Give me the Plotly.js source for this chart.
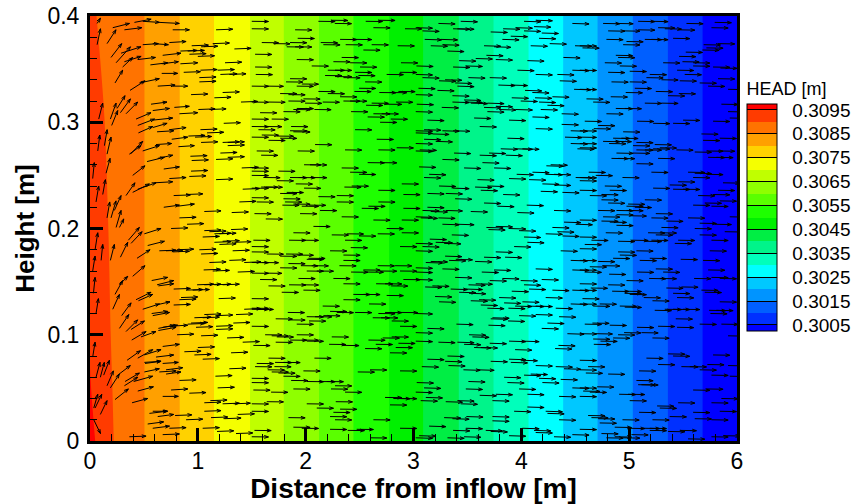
<!DOCTYPE html>
<html><head><meta charset="utf-8">
<script src="https://cdn.plot.ly/plotly-3.0.1.min.js"></script>
<style>html,body{margin:0;padding:0;background:#fff}</style></head>
<body><div id="chart" style="width:855px;height:504px"></div>
<script>
// Head field: straight iso-head stations (m) and values (m)
const stationX = [0.505,0.832,1.150,1.484,1.797,2.124,2.443,2.774,3.089,3.420,3.742,4.067,4.388,4.707,5.034,5.359,5.681,6.0];
const stationHead = [0.3085,0.3080,0.3075,0.3070,0.3065,0.3060,0.3055,0.3050,0.3045,0.3040,0.3035,0.3030,0.3025,0.3020,0.3015,0.3010,0.3005,0.3002];
// Near-inflow field varies with height
const inflowX = [0,0.06,0.13,0.17,0.22];
const rowY = [0,0.05,0.1,0.2,0.3,0.4];
const inflowHead0 = [0.3097,0.30945,0.3092,0.30912,0.3090];
const inflowHead05 = [0.30953,0.30935,0.30915,0.30906,0.30898];
const inflowHead10 = [0.30945,0.3093,0.3091,0.30904,0.30895];
const inflowHead20 = [0.3094,0.30925,0.30908,0.3090,0.30893];
const inflowHead30 = [0.3093,0.30915,0.30901,0.30894,0.30888];
const inflowHead40 = [0.3092,0.3090,0.30892,0.30888,0.30882];
const bandColors = ['#0000ff','#0030ff','#005fff','#0094ff','#00c8ff','#00ffff','#00ffbb','#00f48a','#00ee44','#00f000','#1eff00','#5aff00','#8fff00','#c0ff00','#f5ff00','#ffd200','#ffa000','#ff7300','#ff3b00','#ff0000'];
const levelTicks = [0.3005,0.3015,0.3025,0.3035,0.3045,0.3055,0.3065,0.3075,0.3085,0.3095];

// Velocity arrows near the inflow: [x, y, u, v]
const inflowArrowsUpper = [[.066,.393,.031,.005],[.066,.373,.031,.015],[.158,.374,.083,.013],[.211,.389,.155,.004],[.319,.387,.161,.002],[.412,.394,.155,.003],[.489,.395,.155,-.001],[.643,.394,.185,-.001],[.767,.387,.155,0],[.195,.361,.099,.013],[.242,.356,.133,.015],[.288,.365,.185,.006],[.489,.373,.145,.001],[.582,.374,.145,-.001],[.736,.375,.155,.001],[.303,.352,.093,.009],[.319,.357,.155,.005],[.443,.359,.164,.002],[.560,.354,.161,.002],[.665,.355,.155,.002],[.838,.355,.161,.001],[.232,.337,.071,.012],[.371,.330,.139,.009],[.458,.337,.185,.004],[.665,.346,.148,0],[.628,.334,.161,.001],[.767,.334,.139,0],[.674,.363,.17,.002],
[.081,.303,.037,.015],[.189,.303,.053,.015],[.251,.313,.074,.012],[.282,.309,.093,.013],[.334,.308,.108,.011],[.201,.297,.056,.014],[.566,.317,.148,.002],[.427,.303,.139,.006],[.582,.311,.155,.002],[.443,.297,.155,.006],[.582,.302,.185,.002],[.449,.29,.133,.006],[.582,.295,.133,.004],[.622,.291,.155,.001],[.736,.293,.155,.002],[.829,.308,.17,.001],[.782,.314,.139,.001],[.758,.284,.148,.002],[.82,.277,.148,.001],[.072,.273,.019,.015],[.134,.278,.025,.015],[.158,.27,.037,.016],[.375,.27,.114,.012],[.365,.27,.108,.008],[.489,.273,.155,.005],[.612,.279,.145,.001],[.529,.263,.161,.004],[.628,.266,.139,.003],[.396,.25,.114,.009],[.684,.256,.145,.002],[.149,.252,.037,.014],[.025,.247,.015,.015],[.736,.247,.155,.001],[.056,.225,.025,.015],[.118,.232,.025,.014],[.334,.231,.083,.012],[.396,.234,.155,.008],[.443,.237,.17,.006],[.597,.243,.17,.001],[.684,.22,.145,.002],[.813,.221,.155,.002],[.158,.21,.025,.015],[.195,.21,.046,.016],[.226,.217,.062,.014],[.242,.201,.046,.016],[.273,.201,.04,.008]];
const inflowArrowsLower = [[.025,.16,.022,.014],[.047,.18,.025,.016],[.103,.17,.015,.015],[.189,.17,.037,.015],[.282,.173,.068,.014],[.356,.189,.102,.012],[.381,.186,.102,.011],[.504,.195,.155,.005],[.436,.172,.121,.008],[.535,.184,.155,.004],[.032,.139,.015,.015],[.396,.155,.114,.01],[.232,.138,.071,.013],[.273,.147,.077,.008],[.572,.151,.148,.003],[.622,.147,.155,.004],[.634,.146,.142,.002],[.211,.124,.062,.014],[.056,.12,.022,.014],[.294,.118,.087,.012],[.427,.133,.139,.007],[.449,.132,.133,.006],[.489,.124,.155,.005],[.612,.128,.13,.003],[.572,.12,.148,.002],[.582,.118,.155,.003],[.273,.106,.087,.013],[.334,.103,.108,.011],[.381,.105,.124,.008],[.387,.095,.133,.008],[.473,.098,.139,.005],[.634,.106,.148,.003],[.674,.107,.139,.002],[.736,.108,.17,.001],[.634,.104,.164,.003],[.025,.079,.022,.014],[.344,.076,.124,.009],[.443,.078,.139,.008],[.504,.081,.155,.005],[.674,.089,.155,.002],[.056,.06,.037,.014],[.096,.06,.037,.014],[.127,.062,.053,.014],[.158,.052,.059,.014],[.189,.05,.083,.013],[.257,.062,.117,.009],[.325,.056,.133,.008],[.319,.052,.124,.008],[.405,.056,.176,.005],[.504,.074,.155,.001],[.504,.065,.139,.003],[.612,.079,.164,.002],[.51,.073,.148,.002],[.674,.073,.145,.001],[.705,.067,.155,.002],[.643,.065,.155,.001],[.705,.063,.139,.002],[.443,.047,.145,.004],[.035,.031,.037,.013],[.047,.031,.062,.013],[.096,.025,.062,.013],[.232,.039,.124,.01],[.39,.036,.145,.004],[.674,.042,.145,0],[.752,.048,.155,.001],[.035,.02,.062,-.013],[.551,.026,.164,.002],[.582,.028,.139,0],[.535,.016,.148,.002],[.582,.012,.155,.002],[.628,.023,.148,.002]];

// Arrow tails [x, y] for the nearly horizontal flow, by region
const tailsA = [[.838,.367],[.906,.367],[.943,.372],[1.03,.371],[1.138,.374],[.922,.364],[1.0,.362],[1.024,.349],[1.014,.342],[1.014,.338],[1.184,.349],[1.252,.356],[1.209,.345],[1.292,.345],[.937,.326],[1.23,.328],[1.153,.323],[1.40,.319],[1.005,.312],[1.107,.312],[1.24,.299],[1.024,.293],[1.085,.29],[.912,.287],[.974,.286],[1.03,.281],[.931,.268],[.943,.264],[.937,.254],[.921,.249],[1.169,.246],[.776,.231],[.891,.232],[.829,.21],[1.06,.216],[1.314,.215],[.90,.204],[1.209,.271],[1.277,.267],[1.169,.265],[1.23,.281],[1.277,.281],[1.277,.278],[1.169,.387],[1.339,.369],[1.407,.257],[1.416,.237],[1.385,.225],[.869,.347],
[.752,.2],[1.06,.198],[1.107,.197],[1.153,.195],[1.045,.192],[1.2,.195],[1.308,.199],[1.23,.188],[1.153,.187],[1.2,.185],[1.323,.179],[1.339,.187],[.643,.179],[.705,.179],[.767,.178],[.807,.18],[1.014,.18],[1.03,.176],[1.107,.168],[1.292,.17],[1.43,.168],[1.054,.161],[1.138,.16],[1.37,.159],[.776,.143],[.891,.142],[.952,.142],[.993,.147],[1.06,.147],[1.23,.147],[1.153,.147],[.844,.135],[.829,.133],[1.193,.134],[.776,.128],[1.06,.119],[.968,.116],[1.169,.118],[1.045,.116],[1.354,.119],[1.43,.124],[.906,.11],[.937,.111],[.983,.107],[1.169,.108],[1.169,.105],[1.329,.111],[.807,.1],[1.03,.099],[1.271,.097],[1.416,.093],[.875,.084],[1.0,.088],[.968,.081],[1.045,.077],[1.308,.083],[1.292,.068],[1.163,.061],[.829,.057],[1.184,.05],[.921,.045],[1.116,.038],[1.06,.036],[1.23,.035],[1.332,.035],[1.06,.028],[1.37,.025],[.789,.024],[.891,.02],[1.122,.022],[1.246,.021],[1.045,.012],[.674,.006],[.736,.012],[1.178,.009],[1.354,.007],[.365,.004]];
const tailsB = [[1.5,.395],[1.5,.388],[2.118,.395],[2.235,.396],[2.27,.393],[2.557,.395],[2.674,.396],[1.902,.387],[2.628,.389],[2.921,.388],[1.593,.375],[1.70,.374],[1.855,.375],[1.926,.379],[1.824,.371],[1.902,.371],[2.14,.375],[2.164,.373],[2.319,.378],[2.458,.378],[2.371,.373],[2.612,.373],[2.535,.368],[2.853,.372],[1.531,.364],[1.917,.359],[2.334,.361],[2.257,.357],[2.412,.356],[2.504,.352],[2.056,.353],[2.884,.356],[1.531,.352],[2.205,.349],[2.272,.349],[2.458,.347],[2.751,.345],[2.875,.347],[1.537,.345],[2.18,.344],[2.272,.343],[2.35,.342],[2.489,.344],[1.855,.341],[1.818,.338],[1.964,.336],[1.917,.334],[2.551,.338],[2.495,.332],[1.5,.334],[1.639,.334],[2.118,.329],[2.452,.329],[2.205,.327],[2.319,.324],[1.763,.327],[1.84,.326],[2.683,.328],[2.782,.328],[2.86,.329],[1.979,.322],[1.84,.32],[2.35,.32],[2.412,.32],[2.158,.319],[1.994,.318],[1.655,.319],[1.5,.319],[2.612,.318],[2.736,.317],[2.838,.319],[2.56,.316],[1.917,.313],[1.886,.312],[1.794,.31],[2.081,.312],[2.421,.31],[1.577,.309],[2.628,.308],[2.705,.308],[2.575,.305],[1.685,.303],[2.789,.303],[1.5,.303],[2.69,.3],[1.5,.296],[1.624,.296],[1.865,.296],[1.562,.293],[1.855,.292],[1.886,.291],[2.458,.293],[1.593,.288],[1.732,.287],[1.763,.285],[1.5,.286],[1.655,.283],[2.659,.284],[2.087,.279],[2.674,.274],[2.844,.276],[2.365,.274],[1.926,.273],[1.546,.273],[1.587,.269],[2.575,.262],[2.69,.262],[1.985,.26],[2.04,.26],[2.334,.257],[2.412,.253],[2.495,.251],[1.747,.254],[1.5,.257],[1.5,.254],[1.5,.25],[1.608,.248],[1.732,.245],[1.855,.248],[1.933,.248],[2.041,.248],[1.908,.242],[1.985,.238],[2.359,.239],[2.427,.24],[2.891,.242],[1.587,.239],[1.63,.239],[1.5,.238],[2.674,.236],[2.906,.232],[1.763,.233],[1.824,.234],[2.118,.23],[2.288,.231],[1.794,.228],[1.5,.229],[1.546,.225],[2.288,.225],[2.674,.225],[1.809,.225],[1.784,.222],[1.886,.223],[1.964,.221],[2.031,.222],[2.52,.219],[2.582,.221],[2.133,.217],[2.906,.219],[1.948,.214],[1.525,.214],[2.334,.211],[1.63,.209],[2.628,.208],[2.891,.208],[2.072,.202],
[1.886,.196],[2.242,.194],[2.381,.195],[2.495,.193],[2.668,.195],[2.751,.2],[2.891,.196],[1.515,.189],[1.846,.189],[1.964,.189],[2.365,.189],[2.875,.183],[1.5,.183],[2.418,.182],[2.226,.179],[1.5,.178],[1.639,.176],[1.818,.176],[1.917,.175],[1.763,.174],[2.025,.172],[2.35,.175],[2.01,.171],[2.35,.17],[1.5,.168],[1.593,.168],[1.84,.167],[1.957,.165],[2.056,.165],[2.313,.165],[2.668,.165],[2.829,.165],[1.763,.163],[2.01,.16],[2.103,.16],[2.421,.159],[2.535,.161],[2.566,.159],[2.69,.16],[2.875,.16],[1.5,.158],[1.624,.158],[1.933,.153],[2.257,.153],[2.906,.152],[1.577,.152],[2.653,.148],[2.736,.148],[2.792,.146],[2.35,.148],[1.655,.146],[1.846,.147],[1.964,.147],[1.979,.142],[1.778,.14],[2.442,.138],[2.535,.138],[2.751,.137],[1.5,.134],[2.35,.133],[2.588,.129],[2.158,.127],[1.5,.125],[1.5,.124],[1.546,.124],[2.226,.122],[2.288,.121],[2.458,.121],[1.834,.121],[2.674,.12],[2.736,.121],[2.884,.121],[2.01,.117],[2.087,.117],[2.164,.118],[2.622,.116],[2.699,.116],[1.722,.115],[1.84,.114],[2.031,.113],[2.798,.113],[1.917,.11],[1.5,.108],[2.875,.108],[1.624,.1],[1.685,.099],[1.917,.1],[2.242,.098],[1.732,.098],[2.714,.097],[2.798,.098],[1.855,.095],[1.964,.095],[2.01,.094],[1.722,.093],[2.582,.095],[2.217,.091],[2.34,.09],[2.65,.091],[2.86,.092],[1.515,.09],[2.551,.087],[2.835,.088],[2.782,.083],[1.655,.078],[2.081,.078],[1.716,.074],[1.794,.074],[1.546,.073],[1.531,.07],[1.71,.07],[1.648,.067],[1.685,.065],[1.747,.064],[1.979,.066],[1.794,.061],[2.597,.067],[2.483,.065],[2.875,.066],[1.865,.057],[2.01,.056],[2.118,.056],[2.195,.056],[1.5,.059],[1.5,.055],[2.272,.052],[2.235,.049],[1.886,.049],[2.365,.046],[1.515,.048],[1.679,.046],[2.736,.041],[2.813,.04],[2.875,.04],[1.5,.035],[1.639,.037],[2.01,.035],[2.279,.037],[2.782,.034],[2.103,.031],[2.319,.03],[1.5,.028],[2.257,.027],[2.226,.023],[1.84,.022],[2.272,.02],[2.628,.02],[1.886,.013],[1.964,.012],[2.226,.011],[2.39,.01],[2.473,.011],[1.525,.01],[2.875,.012],[2.597,.003],[1.5,.004]];
const tailsC = [[3.231,.393],[3.438,.395],[4.025,.395],[4.133,.396],[3.367,.388],[3.407,.388],[3.831,.388],[3.948,.389],[4.118,.39],[3.021,.389],[3.083,.386],[3.716,.385],[4.025,.386],[4.189,.384],[4.473,.393],[3.902,.381],[3.824,.378],[4.164,.379],[3.104,.378],[3.253,.378],[3.16,.372],[3.268,.373],[3.654,.372],[3.747,.371],[4.087,.372],[4.263,.374],[4.498,.372],[3.314,.367],[3.676,.363],[3.577,.36],[3.423,.358],[3.763,.359],[4.056,.358],[4.39,.361],[3.027,.353],[3.367,.352],[3.484,.353],[3.964,.349],[4.473,.349],[4.133,.345],[4.334,.345],[3.021,.345],[3.083,.342],[3.509,.342],[3.707,.342],[4.356,.339],[3.237,.339],[3.293,.34],[3.386,.337],[3.407,.334],[3.787,.335],[3.902,.335],[3.046,.332],[3.222,.33],[4.034,.33],[4.102,.328],[4.489,.331],[3.021,.326],[3.361,.325],[4.288,.324],[3.911,.323],[4.127,.323],[3.469,.321],[3.361,.319],[3.484,.319],[3.531,.318],[3.685,.318],[3.994,.32],[4.164,.319],[4.242,.316],[3.03,.317],[3.763,.315],[3.654,.314],[3.794,.312],[3.262,.314],[3.021,.31],[3.685,.31],[3.948,.312],[4.18,.312],[4.374,.308],[4.103,.305],[3.562,.304],[3.886,.302],[3.129,.302],[4.374,.298],[3.614,.296],[4.133,.294],[3.021,.292],[3.098,.293],[3.268,.292],[3.367,.292],[4.458,.292],[3.021,.29],[3.175,.289],[3.871,.285],[3.098,.284],[3.206,.282],[4.405,.286],[4.458,.28],[3.021,.28],[3.021,.273],[3.058,.274],[4.52,.275],[3.809,.275],[3.948,.275],[4.01,.275],[3.376,.271],[3.701,.271],[3.614,.269],[3.855,.269],[3.268,.265],[3.639,.262],[3.469,.257],[3.747,.257],[3.052,.258],[4.272,.26],[4.232,.259],[3.957,.251],[4.103,.253],[4.226,.251],[4.303,.251],[3.145,.251],[3.098,.248],[3.886,.247],[4.072,.246],[3.593,.246],[4.504,.248],[4.195,.242],[4.303,.241],[3.237,.24],[3.361,.238],[3.571,.239],[3.685,.24],[3.624,.236],[4.18,.235],[4.381,.234],[3.129,.233],[3.299,.233],[3.831,.232],[3.386,.228],[3.654,.224],[4.05,.222],[3.778,.221],[3.129,.22],[3.083,.217],[3.16,.216],[3.299,.217],[3.531,.216],[3.963,.215],[4.303,.217],[3.021,.211],[3.067,.21],[3.231,.21],[4.396,.206],[3.268,.204],[3.407,.204],[3.676,.201],[3.763,.202],[4.288,.201],[4.504,.204],
[3.355,.194],[3.695,.199],[3.886,.2],[3.979,.198],[4.226,.195],[4.334,.197],[4.381,.193],[4.025,.192],[3.151,.19],[3.206,.187],[3.284,.186],[4.056,.187],[3.021,.186],[3.083,.183],[3.021,.179],[3.933,.183],[3.763,.178],[4.365,.179],[3.293,.174],[3.654,.173],[3.849,.173],[3.16,.169],[3.33,.17],[3.392,.171],[3.114,.168],[3.571,.169],[4.458,.17],[3.021,.163],[3.268,.162],[3.747,.161],[3.633,.159],[4.133,.162],[4.473,.161],[3.021,.159],[3.386,.154],[3.824,.153],[3.707,.151],[3.994,.151],[4.189,.152],[3.021,.152],[3.51,.147],[3.577,.148],[4.025,.147],[3.108,.145],[3.175,.146],[3.345,.143],[3.484,.143],[4.072,.143],[4.288,.142],[3.911,.141],[3.423,.14],[3.515,.139],[4.473,.142],[3.2,.136],[3.794,.135],[4.226,.135],[3.531,.132],[3.608,.133],[3.237,.131],[3.84,.13],[4.01,.131],[3.624,.128],[4.458,.129],[3.942,.127],[4.056,.127],[4.133,.127],[3.685,.125],[3.88,.125],[4.319,.125],[3.021,.12],[4.133,.119],[3.979,.118],[4.35,.117],[3.716,.115],[3.732,.116],[3.877,.113],[4.242,.111],[3.398,.11],[3.695,.109],[4.189,.106],[3.129,.106],[3.021,.102],[4.427,.101],[3.515,.1],[3.546,.098],[3.231,.093],[3.407,.093],[3.707,.092],[3.886,.094],[4.01,.094],[3.469,.091],[3.562,.088],[3.624,.088],[3.021,.094],[4.344,.09],[4.313,.087],[3.942,.086],[3.315,.08],[3.129,.077],[3.293,.075],[3.716,.075],[3.886,.077],[3.994,.076],[3.902,.074],[4.133,.071],[3.324,.071],[4.319,.07],[3.077,.07],[4.396,.068],[3.463,.067],[3.593,.067],[4.025,.062],[4.087,.063],[3.84,.06],[4.164,.059],[4.365,.058],[3.509,.056],[4.195,.055],[3.03,.055],[3.871,.055],[3.098,.05],[3.485,.049],[3.979,.049],[4.473,.05],[3.021,.046],[3.763,.044],[4.056,.044],[3.614,.043],[4.35,.042],[3.114,.041],[3.067,.038],[3.732,.038],[3.299,.037],[3.407,.038],[3.438,.035],[4.056,.032],[4.226,.028],[4.242,.026],[3.933,.028],[3.732,.023],[3.732,.019],[3.284,.022],[3.361,.021],[3.49,.023],[4.35,.02],[3.145,.014],[3.485,.012],[3.367,.01],[4.01,.012],[3.67,.01],[3.716,.009],[4.118,.01],[4.133,.008],[3.021,.003],[3.052,.005],[3.315,.003],[3.469,.004],[3.886,.005],[4.303,.004],[4.473,.006]];
const tailsD = [[4.758,.393],[4.882,.393],[5.083,.395],[5.206,.395],[5.531,.393],[5.793,.394],[5.763,.389],[4.805,.386],[4.944,.386],[5.083,.387],[5.268,.389],[5.33,.388],[5.454,.387],[4.789,.378],[5.145,.378],[5.206,.378],[5.407,.379],[4.975,.376],[4.944,.373],[5.691,.373],[5.824,.374],[4.542,.372],[4.567,.37],[5.716,.37],[5.679,.368],[5.525,.366],[4.876,.363],[4.897,.361],[5.463,.362],[5.494,.357],[5.315,.356],[5.593,.356],[5.593,.353],[4.774,.356],[4.913,.353],[5.846,.351],[5.778,.352],[5.444,.349],[4.805,.347],[5.005,.348],[4.542,.349],[5.515,.345],[5.191,.345],[5.16,.342],[5.299,.34],[5.469,.339],[5.824,.341],[4.836,.338],[5.005,.338],[5.654,.337],[5.732,.334],[5.052,.332],[4.542,.331],[5.917,.331],[5.247,.329],[4.968,.328],[5.46,.327],[5.36,.325],[4.829,.324],[4.604,.322],[4.666,.319],[5.145,.318],[5.299,.318],[4.876,.313],[4.959,.313],[5.855,.317],[5.917,.31],[4.789,.308],[5.073,.301],[4.588,.301],[5.222,.299],[5.407,.299],[5.5,.302],[5.778,.301],[5.933,.304],[4.712,.297],[4.672,.294],[4.944,.291],[4.542,.292],[4.851,.285],[4.928,.285],[5.67,.289],[4.542,.286],[4.758,.282],[4.866,.282],[5.067,.281],[5.685,.283],[5.84,.285],[4.542,.28],[4.814,.28],[5.237,.279],[5.036,.278],[5.284,.276],[5.222,.275],[4.542,.276],[5.438,.274],[5.067,.274],[5.608,.272],[5.716,.273],[5.824,.273],[4.882,.271],[5.036,.271],[5.145,.274],[5.732,.267],[5.809,.267],[4.836,.266],[4.897,.266],[5.268,.266],[5.067,.261],[5.206,.253],[4.625,.253],[4.69,.25],[5.546,.253],[5.608,.252],[5.716,.251],[4.938,.248],[5.593,.248],[4.542,.248],[4.542,.245],[5.454,.244],[5.87,.243],[4.774,.24],[5.376,.241],[5.222,.238],[5.407,.237],[5.5,.237],[4.82,.236],[5.824,.236],[4.542,.236],[4.635,.231],[4.743,.232],[5.639,.231],[5.778,.232],[5.145,.227],[4.743,.227],[5.84,.226],[5.593,.222],[5.701,.224],[4.99,.223],[4.805,.224],[5.763,.221],[4.975,.221],[5.052,.22],[4.712,.217],[4.882,.217],[4.975,.217],[5.247,.214],[4.882,.213],[5.005,.212],[4.758,.211],[5.206,.21],[5.546,.21],[5.933,.211],[4.542,.208],[4.743,.207],[4.82,.206],[5.345,.207],[5.654,.205],[5.793,.204],[4.882,.203],[5.299,.201],
[4.542,.192],[4.783,.196],[5.175,.196],[5.284,.196],[5.247,.194],[5.608,.2],[5.654,.194],[5.886,.197],[4.65,.189],[4.897,.188],[5.021,.189],[5.145,.188],[5.206,.189],[5.454,.189],[5.423,.186],[5.763,.189],[4.588,.185],[4.542,.181],[4.897,.178],[5.067,.179],[5.747,.179],[4.913,.175],[4.851,.172],[5.191,.172],[5.098,.17],[5.478,.171],[5.685,.17],[4.542,.17],[4.712,.169],[4.758,.165],[4.635,.164],[4.542,.161],[4.588,.159],[5.073,.159],[5.247,.162],[5.315,.159],[5.732,.161],[4.814,.157],[4.975,.151],[5.185,.153],[5.284,.153],[5.602,.153],[5.763,.154],[5.84,.153],[4.542,.148],[4.805,.147],[4.542,.142],[4.644,.144],[5.345,.144],[5.484,.145],[5.67,.142],[5.701,.14],[4.842,.141],[4.959,.141],[5.407,.139],[4.959,.139],[5.005,.138],[4.567,.134],[5.135,.135],[5.444,.135],[5.216,.132],[5.84,.131],[4.542,.129],[4.666,.127],[4.727,.129],[4.913,.127],[4.959,.126],[5.237,.123],[5.33,.124],[5.407,.124],[5.5,.124],[5.741,.123],[5.809,.123],[5.753,.12],[5.432,.115],[4.588,.11],[4.659,.111],[4.82,.109],[5.654,.11],[5.073,.107],[5.268,.108],[5.444,.107],[5.855,.11],[4.953,.102],[5.114,.102],[4.69,.101],[4.897,.1],[5.917,.099],[5.216,.097],[4.851,.097],[4.666,.096],[4.734,.094],[4.672,.091],[4.542,.101],[4.542,.076],[5.361,.082],[5.407,.08],[5.778,.081],[5.16,.078],[5.268,.072],[4.619,.07],[5.484,.07],[5.562,.07],[5.654,.067],[5.725,.072],[5.092,.066],[5.917,.071],[4.542,.067],[4.598,.064],[4.805,.063],[5.763,.062],[5.933,.061],[5.067,.057],[5.083,.053],[5.114,.053],[4.542,.05],[4.703,.051],[5.593,.048],[5.716,.049],[4.573,.047],[4.635,.046],[4.907,.044],[4.99,.044],[4.542,.042],[5.855,.04],[5.005,.038],[5.454,.036],[5.763,.036],[5.259,.033],[5.284,.031],[5.092,.027],[5.593,.027],[5.84,.028],[4.619,.024],[4.65,.022],[4.712,.021],[4.938,.02],[5.216,.02],[4.727,.017],[5.376,.023],[5.608,.021],[5.763,.02],[4.866,.013],[4.99,.012],[5.129,.012],[5.191,.012],[4.542,.011],[5.191,.01],[5.361,.009],[5.469,.01],[4.743,.007],[4.866,.004],[4.789,.003],[4.944,.003],[5.021,.006],[5.546,.002],[5.763,.004],[5.871,.005]];
const bodyVelocity = {u:0.155, vA:0.0006, vB:-0.0002, vC:-0.0005, vD:-0.0003};

// Build contour grid from the arrays above
const gridX = inflowX.concat(stationX);
const inflowRows = [inflowHead0,inflowHead05,inflowHead10,inflowHead20,inflowHead30,inflowHead40];
const gridZ = inflowRows.map(r => r.concat(stationHead));
const colorscale = bandColors.map((c,i) => [i/(bandColors.length-1), c]);

const margin = {l:90, r:118, t:16, b:63, autoexpand:false};
const W = 855, H = 504;
const xRange = [0,6], yRange = [0,0.4];
const sx = (W-margin.l-margin.r)/(xRange[1]-xRange[0]);
const sy = (H-margin.t-margin.b)/(yRange[1]-yRange[0]);

const ax = [], ay = [];
function addArrow(x,y,u,v){
  const tx = x+u, ty = y+v;
  const a = Math.atan2(v*sy,u*sx), L = 4.5, phi = 0.33;
  ax.push(x,tx,null, tx-L*Math.cos(a+phi)/sx, tx, tx-L*Math.cos(a-phi)/sx, null);
  ay.push(y,ty,null, ty-L*Math.sin(a+phi)/sy, ty, ty-L*Math.sin(a-phi)/sy, null);
}
inflowArrowsUpper.concat(inflowArrowsLower).forEach(p => addArrow(p[0],p[1],p[2],p[3]));
tailsA.forEach(p => addArrow(p[0],p[1],bodyVelocity.u,bodyVelocity.vA));
tailsB.forEach(p => addArrow(p[0],p[1],bodyVelocity.u,bodyVelocity.vB));
tailsC.forEach(p => addArrow(p[0],p[1],bodyVelocity.u,bodyVelocity.vC));
tailsD.forEach(p => addArrow(p[0],p[1],bodyVelocity.u,bodyVelocity.vD));

const font = 'Liberation Sans, Arial, sans-serif';
const traces = [{
  type:'contour', x:gridX, y:rowY, z:gridZ, colorscale, hoverinfo:'skip',
  autocontour:false,
  contours:{coloring:'fill', showlines:false, start:0.3005, end:0.3095, size:0.0005},
  line:{width:0},
  colorbar:{
    thicknessmode:'pixels', thickness:30, lenmode:'pixels', len:252,
    x:1.0155, xanchor:'left', xpad:0, y:0.852, yanchor:'top', ypad:0,
    outlinecolor:'#000', outlinewidth:1, borderwidth:0,
    tickmode:'array', tickvals:levelTicks, ticktext:levelTicks.map(v=>'\u00a0\u00a0'+v.toFixed(4)),
    ticks:'inside', ticklen:30, tickwidth:1, tickcolor:'#000',
    tickfont:{family:font, size:19, color:'#000'},
    title:{text:'HEAD [m]', side:'top', font:{family:font, size:18, color:'#000'}}
  }
},{
  type:'scatter', mode:'lines', x:ax, y:ay, hoverinfo:'skip', showlegend:false,
  line:{color:'#000', width:1, simplify:false}, connectgaps:false
}];
const axisBase = {
  showgrid:false, zeroline:false, showline:true, linecolor:'#000', linewidth:3, mirror:true,
  ticks:'inside', ticklen:13, tickwidth:3, tickcolor:'#000', automargin:false,
  tickfont:{family:font, size:23, color:'#000'}
};
const layout = {
  width:W, height:H, margin, paper_bgcolor:'#fff', plot_bgcolor:'#fff', showlegend:false,
  xaxis:Object.assign({}, axisBase, {range:xRange, tickmode:'array', tickvals:[0,1,2,3,4,5,6], ticklabelstandoff:-3, automargin:true,
    minor:{dtick:0.2, ticks:'inside', ticklen:7, tickwidth:1, tickcolor:'#000'},
    title:{text:'<b>Distance from inflow [m]</b>', font:{family:font, size:28, color:'#000'}, standoff:1}}),
  yaxis:Object.assign({}, axisBase, {range:yRange, tickmode:'array', tickvals:[0,0.1,0.2,0.3,0.4], ticktext:['0','0.1','0.2','0.3','0.4'], ticklabelstandoff:3,
    minor:{dtick:0.02, ticks:'inside', ticklen:7, tickwidth:1, tickcolor:'#000'},
    title:{text:'<b>Height [m]</b>', font:{family:font, size:26, color:'#000'}, standoff:6}})
};
Plotly.newPlot('chart', traces, layout, {displayModeBar:false, staticPlot:true});
</script></body></html>
